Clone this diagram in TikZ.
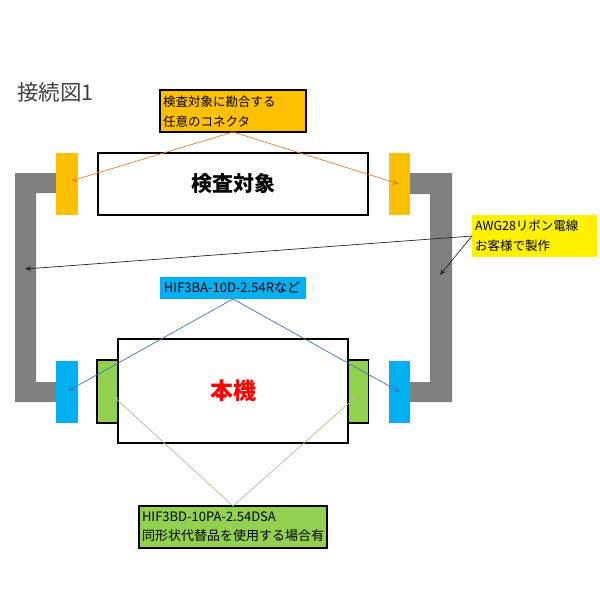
\documentclass[tikz,border=0pt]{standalone}
\usepackage{fontspec}
\setmainfont{Noto Sans CJK JP}
\usetikzlibrary{arrows.meta}
\definecolor{orng}{HTML}{FFC000}
\definecolor{cblue}{HTML}{00B0F0}
\definecolor{cgreen}{HTML}{92D050}
\definecolor{cgray}{HTML}{808080}
\definecolor{lorange}{HTML}{ED7D31}
\definecolor{lblue}{HTML}{4472C4}
\definecolor{lgreen}{HTML}{A9C48E}
\tikzset{
  blk/.style={inner sep=0pt, outer sep=0pt},
  plainbox/.style={blk, draw=black, line width=1.3pt, fill=white},
  part/.style={blk},
  lbl/.style={blk, align=left, anchor=west},
  ptr/.style={line width=0.7pt, -{Stealth[length=6pt,width=5pt]}},
}
\begin{document}
\begin{tikzpicture}[x=1pt,y=-1pt]
\useasboundingbox (0,0) rectangle (600,600);
% title
\node[lbl, font=\fontsize{21.5}{26}\selectfont, text=black!75] (title) at (17,92) {接続図1};
% cables
\fill[cgray] (56,173) -- (15,173) -- (15,402) -- (56,402) -- (56,382) -- (36,382) -- (36,193) -- (56,193) -- cycle;
\fill[cgray] (410,173) -- (452,173) -- (452,402) -- (410,402) -- (410,382) -- (430,382) -- (430,194) -- (410,194) -- cycle;
% inspection target
\node[plainbox, minimum width=270pt, minimum height=62pt, font=\fontsize{21}{25}\selectfont\bfseries] (target) at (233,184) {検査対象};
\node[part, fill=orng, minimum width=22pt, minimum height=62pt] (oL) at (67,184) {};
\node[part, fill=orng, minimum width=21pt, minimum height=62pt] (oR) at (399.5,184) {};
% main unit
\node[part, fill=cblue, minimum width=22pt, minimum height=62pt] (bL) at (67,392) {};
\node[part, fill=cblue, minimum width=21pt, minimum height=62pt] (bR) at (399.5,392) {};
\node[part, fill=cgreen, draw=black, line width=1.2pt, minimum width=21pt, minimum height=63pt] (gL) at (107.5,391.5) {};
\node[part, fill=cgreen, draw=black, line width=1.2pt, minimum width=21pt, minimum height=63pt] (gR) at (358,391.5) {};
\node[plainbox, minimum width=230pt, minimum height=104pt, font=\fontsize{23}{27}\selectfont\bfseries, text=red] (main) at (233,391) {本機};
% labels
\node[part, fill=orng, draw=black, line width=1.2pt, minimum width=146pt, minimum height=42pt] (callout) at (233,111) {};
\node[lbl, font=\fontsize{12.5}{20}\selectfont] (callouttxt) at (163,111.5) {検査対象に勘合する\\任意のコネクタ};
\node[part, fill=cblue, minimum width=146pt, minimum height=22pt] (bluelbl) at (233,288) {};
\node[blk, font=\fontsize{13}{15}\selectfont] (bluetxt) at (232,288) {HIF3BA-10D-2.54Rなど};
\node[part, fill=yellow, minimum width=125pt, minimum height=42pt] (yel) at (534.5,236) {};
\node[lbl, font=\fontsize{12.5}{20.5}\selectfont] (yeltxt) at (475,236) {AWG28リボン電線\\お客様で製作};
\node[part, fill=cgreen, draw=black, line width=1.2pt, minimum width=188pt, minimum height=42pt] (grnlbl) at (233,527) {};
\node[lbl, font=\fontsize{13}{19}\selectfont] (grntxt) at (142,527) {HIF3BD-10PA-2.54DSA\\同形状代替品を使用する場合有};
% arrow ends
\coordinate (eoL) at (71,181);
\coordinate (eoR) at (399,184);
\coordinate (ecL) at (25,269);
\coordinate (ecR) at (440,275);
\coordinate (ebL) at (68,391);
\coordinate (ebR) at (400,392);
\coordinate (egL) at (113,396);
\coordinate (egR) at (357,396);
% arrows
\draw[ptr, lorange] (callout.south) -- (eoL);
\draw[ptr, lorange] (callout.south) -- (eoR);
\draw[ptr, black!85] (yel.west) -- (ecL);
\draw[ptr, black!85] (yel.west) -- (ecR);
\draw[ptr, lblue] (bluelbl.south) -- (ebL);
\draw[ptr, lblue] (bluelbl.south) -- (ebR);
\draw[ptr, lgreen] (grnlbl.north) -- (egL);
\draw[ptr, lgreen] (grnlbl.north) -- (egR);
\end{tikzpicture}
\end{document}
